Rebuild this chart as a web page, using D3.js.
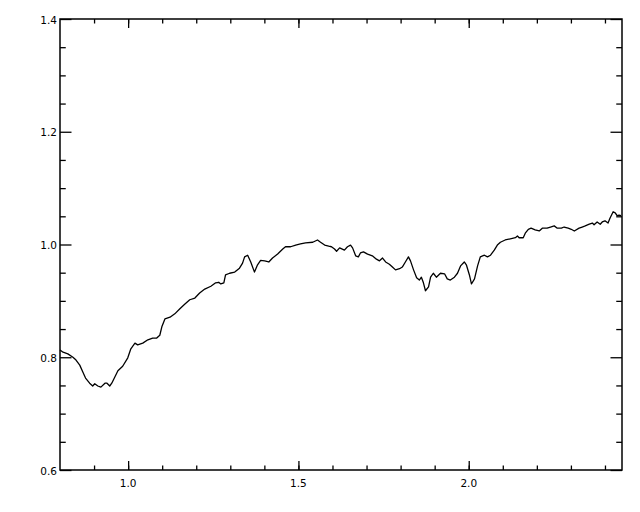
<!DOCTYPE html>
<html>
<head>
<meta charset="utf-8">
<script src="https://cdn.jsdelivr.net/npm/d3@7"></script>
<style>
  body { margin: 0; background: #fff; }
  svg { display: block; }
  .tickLabel { font-family: "DejaVu Sans", sans-serif; font-size: 10.5px; fill: #000; }
</style>
</head>
<body>
<div id="chart"></div>
<script>
// Spectrum values
const wavelength = [
    0.800, 0.809, 0.823, 0.838, 0.847, 0.858, 0.867, 0.875, 0.887, 0.896,
    0.902, 0.911, 0.920, 0.932, 0.938, 0.946, 0.952, 0.961, 0.970, 0.984,
    0.999, 1.008, 1.020, 1.028, 1.043, 1.058, 1.072, 1.084, 1.093, 1.099,
    1.108, 1.123, 1.137, 1.152, 1.166, 1.181, 1.196, 1.210, 1.225, 1.243,
    1.257, 1.266, 1.272, 1.281, 1.286, 1.298, 1.313, 1.327, 1.336, 1.342,
    1.351, 1.360, 1.371, 1.380, 1.389, 1.401, 1.413, 1.424, 1.439, 1.454,
    1.462, 1.477, 1.492, 1.506, 1.521, 1.542, 1.556, 1.565, 1.577, 1.589,
    1.597, 1.606, 1.612, 1.621, 1.635, 1.644, 1.653, 1.659, 1.668, 1.676,
    1.682, 1.691, 1.703, 1.717, 1.729, 1.738, 1.747, 1.756, 1.767, 1.776,
    1.785, 1.797, 1.805, 1.814, 1.823, 1.829, 1.838, 1.847, 1.855, 1.861,
    1.867, 1.873, 1.882, 1.888, 1.896, 1.905, 1.917, 1.929, 1.937, 1.946,
    1.958, 1.967, 1.976, 1.987, 1.993, 2.002, 2.008, 2.017, 2.026, 2.034,
    2.046, 2.055, 2.064, 2.075, 2.084, 2.093, 2.107, 2.122, 2.137, 2.143,
    2.148, 2.160, 2.166, 2.175, 2.183, 2.195, 2.207, 2.216, 2.230, 2.240,
    2.251, 2.260, 2.272, 2.280, 2.292, 2.301, 2.310, 2.324, 2.333, 2.342,
    2.354, 2.363, 2.368, 2.377, 2.386, 2.392, 2.400, 2.409, 2.415, 2.424,
    2.430, 2.436, 2.441, 2.447
];
const flux = [
    0.813, 0.809, 0.806, 0.800, 0.795, 0.786, 0.774, 0.763, 0.754, 0.749,
    0.753, 0.749, 0.747, 0.754, 0.754, 0.749, 0.754, 0.765, 0.776, 0.784,
    0.799, 0.815, 0.825, 0.822, 0.825, 0.831, 0.834, 0.834, 0.839, 0.854,
    0.868, 0.871, 0.877, 0.886, 0.894, 0.902, 0.905, 0.914, 0.921, 0.926,
    0.932, 0.933, 0.930, 0.932, 0.946, 0.949, 0.951, 0.958, 0.967, 0.978,
    0.981, 0.969, 0.951, 0.964, 0.972, 0.971, 0.969, 0.976, 0.983, 0.992,
    0.996, 0.996, 0.999, 1.001, 1.003, 1.004, 1.008, 1.004, 0.999, 0.997,
    0.996, 0.992, 0.988, 0.994, 0.990, 0.996, 0.999, 0.994, 0.980, 0.978,
    0.985, 0.987, 0.983, 0.980, 0.974, 0.971, 0.976, 0.969, 0.965, 0.960,
    0.955, 0.957, 0.960, 0.969, 0.978, 0.971, 0.955, 0.941, 0.937, 0.942,
    0.932, 0.918, 0.925, 0.942, 0.949, 0.942, 0.949, 0.948, 0.939, 0.937,
    0.942, 0.949, 0.962, 0.969, 0.964, 0.946, 0.930, 0.939, 0.962, 0.978,
    0.981, 0.978, 0.981, 0.990, 0.999, 1.004, 1.008, 1.010, 1.012, 1.015,
    1.012, 1.012, 1.020, 1.027, 1.029, 1.026, 1.024, 1.029, 1.029, 1.031,
    1.033, 1.029, 1.029, 1.031, 1.029, 1.027, 1.024, 1.029, 1.031, 1.033,
    1.036, 1.038, 1.035, 1.040, 1.036, 1.040, 1.042, 1.038, 1.047, 1.058,
    1.056, 1.051, 1.052, 1.051
];

// Tick values
const xMajorTicks = [1.0, 1.5, 2.0];
const xMinorTicks = [0.9, 1.0, 1.1, 1.2, 1.3, 1.4, 1.5, 1.6, 1.7, 1.8, 1.9, 2.0, 2.1, 2.2, 2.3, 2.4];
const yMajorTicks = [0.6, 0.8, 1.0, 1.2, 1.4];
const yMinorTicks = [0.65, 0.7, 0.75, 0.85, 0.9, 0.95, 1.05, 1.1, 1.15, 1.25, 1.3, 1.35];

const width = 640, height = 512;
const plotLeft = 60, plotRight = 622, plotTop = 19, plotBottom = 470;

const svg = d3.select("#chart").append("svg")
    .attr("width", width)
    .attr("height", height);

const x = d3.scaleLinear().domain([0.8, 2.45]).range([plotLeft, plotRight]);
const y = d3.scaleLinear().domain([0.6, 1.4]).range([plotBottom, plotTop]);

const xMajorLen = 9, xMinorLen = 4.5;
const yMajorLen = 11.5, yMinorLen = 5.75;

// Axes on all four sides, ticks pointing inwards
function tickAxis(axisFn, scale, values, len, translate) {
    const g = svg.append("g")
        .attr("transform", translate)
        .call(axisFn(scale).tickValues(values).tickSize(-len).tickFormat(""));
    g.select(".domain").remove();
    g.selectAll("line").attr("stroke", "#000").attr("stroke-width", 1.3);
    return g;
}

tickAxis(d3.axisBottom, x, xMinorTicks, xMinorLen, `translate(0,${plotBottom})`);
tickAxis(d3.axisBottom, x, xMajorTicks, xMajorLen, `translate(0,${plotBottom})`);
tickAxis(d3.axisTop, x, xMinorTicks, xMinorLen, `translate(0,${plotTop})`);
tickAxis(d3.axisTop, x, xMajorTicks, xMajorLen, `translate(0,${plotTop})`);
tickAxis(d3.axisLeft, y, yMinorTicks, yMinorLen, `translate(${plotLeft},0)`);
tickAxis(d3.axisLeft, y, yMajorTicks, yMajorLen, `translate(${plotLeft},0)`);
tickAxis(d3.axisRight, y, yMinorTicks, yMinorLen, `translate(${plotRight},0)`);
tickAxis(d3.axisRight, y, yMajorTicks, yMajorLen, `translate(${plotRight},0)`);

// Frame
svg.append("rect")
    .attr("x", plotLeft)
    .attr("y", plotTop)
    .attr("width", plotRight - plotLeft)
    .attr("height", plotBottom - plotTop)
    .attr("fill", "none")
    .attr("stroke", "#000")
    .attr("stroke-width", 1.5);

// Tick labels
svg.selectAll(".xLabel")
    .data(xMajorTicks)
    .enter()
    .append("text")
    .attr("class", "tickLabel")
    .attr("x", d => x(d))
    .attr("y", plotBottom + 17)
    .attr("text-anchor", "middle")
    .text(d => d.toFixed(1));

svg.selectAll(".yLabel")
    .data(yMajorTicks)
    .enter()
    .append("text")
    .attr("class", "tickLabel")
    .attr("x", plotLeft - 3)
    .attr("y", d => y(d) + 4.5)
    .attr("text-anchor", "end")
    .text(d => d.toFixed(1));

// Spectrum line
const points = wavelength.map((w, i) => [w, flux[i]]);
const line = d3.line()
    .x(d => x(d[0]))
    .y(d => y(d[1]));

svg.append("path")
    .datum(points)
    .attr("d", line)
    .attr("fill", "none")
    .attr("stroke", "#000")
    .attr("stroke-width", 1.3)
    .attr("stroke-linejoin", "round");
</script>
</body>
</html>
